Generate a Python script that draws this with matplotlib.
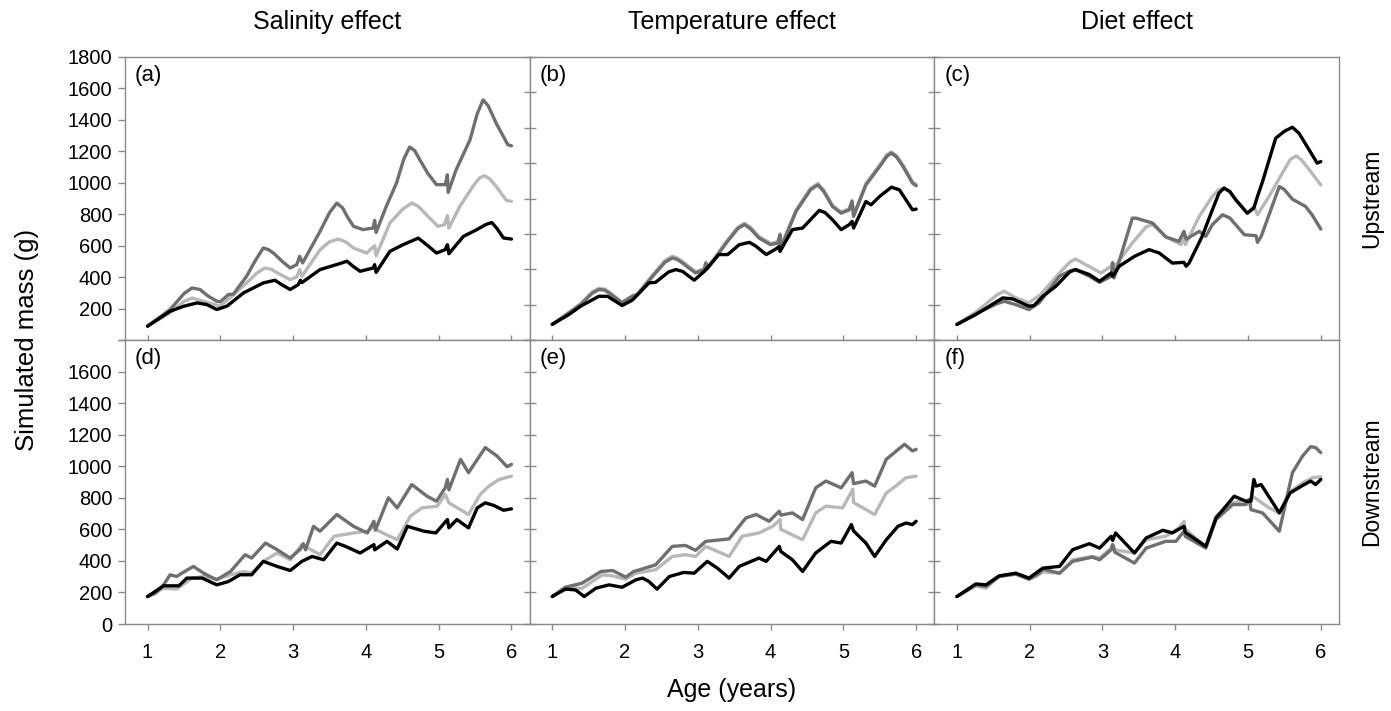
import matplotlib
matplotlib.use("Agg")
import matplotlib.pyplot as plt

plt.rcParams['font.family'] = ['Liberation Sans', 'DejaVu Sans']

col_titles = ["Salinity effect", "Temperature effect", "Diet effect"]
row_titles = ["Upstream", "Downstream"]
panel_letters = ["(a)", "(b)", "(c)", "(d)", "(e)", "(f)"]
ylabel = "Simulated mass (g)"
xlabel = "Age (years)"
x_ticks = [1, 2, 3, 4, 5, 6]

# ---------------- Panel (a) : Salinity, upstream ----------------
a_dark_x = [1.0, 1.31, 1.50, 1.61, 1.72, 1.83, 1.95, 2.0, 2.11, 2.18, 2.36, 2.48, 2.59, 2.66, 2.73, 2.85, 2.96, 3.05, 3.09, 3.13, 3.37, 3.50, 3.60, 3.68, 3.75, 3.83, 3.96, 4.10, 4.12, 4.14, 4.28, 4.42, 4.52, 4.60, 4.67, 4.74, 4.85, 4.97, 5.09, 5.12, 5.13, 5.24, 5.43, 5.53, 5.61, 5.68, 5.74, 5.79, 5.95, 6.0]
a_dark_y = [88, 194, 295, 331, 321, 280, 247, 243, 289, 292, 405, 505, 585, 575, 553, 500, 458, 479, 532, 490, 691, 810, 871, 840, 780, 723, 702, 712, 761, 684, 850, 998, 1150, 1227, 1205, 1147, 1060, 988, 988, 1051, 939, 1083, 1273, 1440, 1527, 1490, 1430, 1379, 1242, 1235]
a_light_x = [1.0, 1.31, 1.50, 1.61, 1.77, 2.0, 2.13, 2.36, 2.50, 2.61, 2.70, 2.77, 2.96, 3.05, 3.09, 3.12, 3.37, 3.50, 3.62, 3.72, 3.83, 4.01, 4.12, 4.14, 4.33, 4.50, 4.63, 4.72, 4.83, 4.99, 5.08, 5.12, 5.14, 5.29, 5.47, 5.56, 5.63, 5.70, 5.79, 5.93, 6.0]
a_light_y = [88, 173, 245, 267, 246, 215, 267, 363, 425, 458, 450, 430, 384, 401, 448, 405, 574, 625, 642, 625, 585, 553, 600, 536, 744, 830, 871, 850, 797, 723, 733, 791, 712, 850, 977, 1030, 1045, 1025, 977, 888, 882]
a_black_x = [1.0, 1.31, 1.50, 1.68, 1.81, 1.95, 2.09, 2.32, 2.59, 2.75, 2.85, 2.96, 3.07, 3.10, 3.12, 3.37, 3.60, 3.74, 3.82, 3.92, 4.10, 4.12, 4.14, 4.33, 4.51, 4.72, 4.85, 4.97, 5.09, 5.12, 5.14, 5.34, 5.52, 5.65, 5.73, 5.80, 5.89, 6.0]
a_black_y = [88, 183, 215, 236, 226, 194, 215, 300, 363, 380, 350, 321, 352, 380, 365, 448, 480, 501, 470, 437, 458, 479, 430, 564, 606, 648, 600, 553, 575, 606, 549, 659, 701, 735, 747, 710, 649, 642]

# ---------------- Panel (b) : Temperature, upstream ----------------
b_dark_x = [1.0, 1.23, 1.39, 1.55, 1.64, 1.72, 1.78, 1.96, 2.10, 2.17, 2.38, 2.55, 2.65, 2.72, 2.79, 2.97, 3.09, 3.11, 3.13, 3.39, 3.55, 3.64, 3.72, 3.84, 4.0, 4.10, 4.13, 4.14, 4.35, 4.55, 4.65, 4.73, 4.85, 4.97, 5.08, 5.12, 5.14, 5.31, 5.50, 5.60, 5.66, 5.73, 5.82, 5.95, 6.0]
b_dark_y = [88, 153, 200, 265, 285, 282, 266, 210, 247, 256, 360, 440, 464, 455, 435, 379, 398, 435, 400, 548, 630, 652, 630, 577, 539, 548, 595, 520, 727, 850, 877, 840, 755, 717, 736, 783, 699, 877, 981, 1040, 1056, 1035, 981, 887, 872]
b_light_x = [1.0, 1.23, 1.39, 1.55, 1.64, 1.72, 1.78, 1.96, 2.10, 2.17, 2.38, 2.55, 2.65, 2.72, 2.79, 2.97, 3.09, 3.11, 3.13, 3.39, 3.55, 3.64, 3.72, 3.84, 4.0, 4.10, 4.13, 4.14, 4.35, 4.55, 4.65, 4.73, 4.85, 4.97, 5.08, 5.12, 5.14, 5.31, 5.50, 5.60, 5.66, 5.73, 5.82, 5.95, 6.0]
b_light_y = [90, 157, 205, 272, 292, 288, 272, 214, 250, 262, 368, 450, 474, 463, 444, 386, 404, 440, 408, 556, 638, 660, 640, 585, 546, 556, 600, 528, 735, 858, 885, 848, 762, 724, 742, 790, 706, 885, 990, 1048, 1064, 1043, 990, 894, 880]
b_black_x = [1.0, 1.23, 1.39, 1.64, 1.76, 1.96, 2.10, 2.33, 2.42, 2.60, 2.70, 2.79, 2.95, 3.09, 3.11, 3.29, 3.41, 3.57, 3.71, 3.80, 3.94, 4.07, 4.12, 4.13, 4.30, 4.44, 4.67, 4.75, 4.85, 4.97, 5.08, 5.12, 5.14, 5.31, 5.38, 5.50, 5.66, 5.77, 5.95, 6.0]
b_black_y = [88, 144, 191, 247, 247, 195, 225, 323, 326, 385, 398, 388, 338, 388, 398, 483, 483, 539, 552, 530, 483, 514, 529, 501, 624, 633, 733, 720, 680, 624, 652, 671, 633, 783, 764, 812, 864, 849, 736, 740]

# ---------------- Panel (c) : Diet, upstream ----------------
c_black_x = [1.0, 1.26, 1.63, 1.77, 1.99, 2.06, 2.18, 2.36, 2.55, 2.63, 2.82, 2.96, 3.12, 3.14, 3.23, 3.44, 3.64, 3.78, 3.96, 4.12, 4.15, 4.19, 4.37, 4.51, 4.60, 4.67, 4.75, 4.83, 4.99, 5.08, 5.13, 5.20, 5.38, 5.50, 5.61, 5.70, 5.84, 5.95, 6.0]
c_black_y = [88, 144, 238, 232, 191, 195, 247, 304, 385, 398, 370, 332, 379, 360, 417, 473, 511, 492, 435, 439, 417, 435, 586, 736, 830, 859, 840, 793, 717, 746, 812, 896, 1141, 1180, 1203, 1169, 1075, 1000, 1009]
c_light_x = [1.0, 1.26, 1.55, 1.65, 1.81, 1.99, 2.15, 2.41, 2.55, 2.63, 2.77, 2.98, 3.12, 3.14, 3.16, 3.41, 3.60, 3.69, 3.87, 4.08, 4.12, 4.14, 4.33, 4.51, 4.60, 4.67, 4.75, 4.86, 4.99, 5.08, 5.13, 5.29, 5.47, 5.58, 5.66, 5.73, 5.79, 5.93, 6.0]
c_light_y = [88, 157, 255, 276, 238, 210, 257, 379, 440, 458, 426, 379, 417, 440, 410, 548, 640, 652, 586, 539, 586, 540, 699, 812, 850, 859, 835, 783, 717, 755, 708, 812, 943, 1020, 1041, 1020, 990, 915, 877]
c_dark_x = [1.0, 1.26, 1.55, 1.65, 1.81, 1.99, 2.13, 2.41, 2.55, 2.63, 2.82, 2.96, 3.12, 3.14, 3.16, 3.41, 3.46, 3.69, 3.87, 4.05, 4.12, 4.15, 4.33, 4.42, 4.51, 4.65, 4.75, 4.83, 4.95, 5.11, 5.13, 5.18, 5.43, 5.50, 5.61, 5.79, 5.88, 6.0]
c_dark_y = [88, 148, 205, 219, 200, 172, 210, 360, 390, 398, 360, 326, 360, 435, 351, 689, 689, 661, 582, 558, 614, 570, 614, 586, 652, 708, 690, 652, 595, 590, 552, 585, 868, 850, 796, 755, 708, 627]

# ---------------- Panel (d) : Salinity, downstream ----------------
d_dark_x = [1.0, 1.11, 1.22, 1.31, 1.40, 1.47, 1.63, 1.77, 1.95, 2.14, 2.34, 2.43, 2.62, 2.78, 2.96, 3.10, 3.14, 3.17, 3.28, 3.37, 3.60, 3.83, 4.02, 4.11, 4.13, 4.31, 4.43, 4.63, 4.84, 4.97, 5.09, 5.12, 5.14, 5.30, 5.41, 5.50, 5.64, 5.80, 5.94, 6.0]
d_dark_y = [174, 195, 248, 312, 301, 322, 365, 322, 280, 333, 439, 418, 513, 471, 418, 475, 509, 470, 619, 588, 694, 619, 577, 651, 595, 800, 736, 884, 810, 778, 863, 916, 850, 1043, 959, 1022, 1118, 1065, 997, 1012]
d_light_x = [1.0, 1.22, 1.40, 1.61, 1.77, 1.95, 2.14, 2.32, 2.43, 2.59, 2.78, 2.96, 3.12, 3.37, 3.56, 3.83, 4.02, 4.11, 4.15, 4.43, 4.61, 4.77, 4.98, 5.09, 5.14, 5.41, 5.57, 5.69, 5.83, 6.0]
d_light_y = [174, 227, 221, 291, 301, 284, 312, 333, 322, 397, 450, 407, 503, 439, 556, 577, 588, 619, 595, 534, 683, 736, 747, 821, 768, 694, 821, 874, 916, 937]
d_black_x = [1.0, 1.22, 1.43, 1.54, 1.75, 1.95, 2.11, 2.27, 2.43, 2.59, 2.78, 2.96, 3.12, 3.26, 3.42, 3.60, 3.72, 3.92, 4.11, 4.12, 4.29, 4.43, 4.57, 4.80, 4.96, 5.12, 5.14, 5.25, 5.41, 5.53, 5.64, 5.76, 5.89, 6.0]
d_black_y = [174, 242, 242, 291, 291, 248, 269, 312, 312, 397, 365, 339, 397, 428, 407, 513, 492, 450, 503, 470, 524, 475, 619, 588, 577, 662, 610, 662, 609, 736, 768, 751, 721, 730]

# ---------------- Panel (e) : Temperature, downstream ----------------
e_dark_x = [1.0, 1.18, 1.41, 1.67, 1.83, 2.01, 2.12, 2.21, 2.42, 2.65, 2.83, 2.97, 3.11, 3.43, 3.66, 3.80, 3.98, 4.12, 4.14, 4.30, 4.44, 4.62, 4.76, 4.97, 5.12, 5.14, 5.31, 5.43, 5.59, 5.84, 5.95, 6.0]
e_dark_y = [174, 233, 259, 333, 339, 297, 333, 345, 375, 492, 498, 467, 524, 539, 672, 694, 651, 715, 690, 704, 662, 863, 906, 863, 959, 890, 906, 874, 1044, 1139, 1097, 1107]
e_light_x = [1.0, 1.18, 1.41, 1.69, 1.83, 2.01, 2.15, 2.42, 2.65, 2.83, 2.97, 3.11, 3.43, 3.61, 3.84, 4.03, 4.13, 4.14, 4.44, 4.62, 4.76, 4.99, 5.13, 5.14, 5.43, 5.59, 5.72, 5.86, 6.0]
e_light_y = [174, 227, 227, 312, 305, 284, 322, 344, 428, 439, 428, 492, 428, 556, 577, 619, 662, 600, 534, 704, 747, 736, 853, 770, 694, 831, 874, 927, 937]
e_black_x = [1.0, 1.18, 1.32, 1.44, 1.60, 1.78, 1.96, 2.15, 2.24, 2.33, 2.44, 2.61, 2.81, 2.95, 3.13, 3.27, 3.43, 3.57, 3.84, 3.94, 4.12, 4.14, 4.30, 4.44, 4.62, 4.83, 4.97, 5.11, 5.14, 5.31, 5.43, 5.59, 5.75, 5.86, 5.95, 6.0]
e_black_y = [174, 221, 216, 174, 227, 248, 233, 280, 291, 269, 221, 301, 327, 322, 397, 354, 291, 365, 418, 397, 492, 460, 407, 333, 450, 524, 513, 630, 590, 513, 428, 534, 619, 640, 630, 651]

# ---------------- Panel (f) : Diet, downstream ----------------
f_dark_x = [1.0, 1.26, 1.40, 1.58, 1.81, 1.99, 2.13, 2.18, 2.41, 2.59, 2.86, 2.96, 3.12, 3.14, 3.17, 3.44, 3.60, 3.87, 4.01, 4.12, 4.14, 4.42, 4.56, 4.79, 4.97, 5.02, 5.04, 5.20, 5.43, 5.61, 5.75, 5.86, 5.93, 6.0]
f_dark_y = [174, 248, 238, 301, 316, 284, 322, 348, 322, 397, 424, 407, 471, 503, 455, 386, 481, 524, 524, 588, 555, 481, 662, 757, 757, 789, 725, 704, 588, 959, 1065, 1124, 1118, 1086]
f_light_x = [1.0, 1.26, 1.40, 1.58, 1.81, 1.99, 2.09, 2.18, 2.41, 2.59, 2.86, 2.96, 3.12, 3.14, 3.17, 3.44, 3.60, 3.87, 4.05, 4.12, 4.14, 4.42, 4.56, 4.79, 5.02, 5.06, 5.29, 5.43, 5.56, 5.75, 5.89, 6.0]
f_light_y = [174, 242, 227, 305, 318, 284, 301, 330, 322, 407, 428, 418, 481, 503, 470, 450, 534, 556, 609, 651, 600, 492, 683, 768, 789, 810, 736, 704, 831, 895, 927, 933]
f_black_x = [1.0, 1.26, 1.40, 1.58, 1.81, 1.99, 2.18, 2.41, 2.59, 2.82, 2.96, 3.12, 3.14, 3.18, 3.44, 3.60, 3.83, 3.96, 4.12, 4.14, 4.42, 4.56, 4.81, 4.97, 5.04, 5.08, 5.11, 5.18, 5.43, 5.58, 5.75, 5.86, 5.93, 6.0]
f_black_y = [174, 254, 248, 305, 322, 291, 354, 365, 471, 509, 481, 556, 530, 577, 450, 545, 594, 577, 619, 580, 492, 672, 810, 778, 778, 916, 874, 884, 704, 831, 878, 906, 884, 916]

panels = [
    [(a_light_x, a_light_y), (a_dark_x, a_dark_y), (a_black_x, a_black_y)],
    [(b_light_x, b_light_y), (b_dark_x, b_dark_y), (b_black_x, b_black_y)],
    [(c_light_x, c_light_y), (c_dark_x, c_dark_y), (c_black_x, c_black_y)],
    [(d_light_x, d_light_y), (d_dark_x, d_dark_y), (d_black_x, d_black_y)],
    [(e_light_x, e_light_y), (e_dark_x, e_dark_y), (e_black_x, e_black_y)],
    [(f_light_x, f_light_y), (f_dark_x, f_dark_y), (f_black_x, f_black_y)],
]
line_colors = ["#b8b8b8", "#6f6f6f", "#000000"]
# y-axis maxima per panel (upper b, c panels were drawn on a 0-1600 axis)
y_max = [1800, 1600, 1600, 1800, 1800, 1800]

W, H = 1391, 711
fig = plt.figure(figsize=(W / 100, H / 100), dpi=100)

left_px, right_px = 125, 1339
col_w = (right_px - left_px) / 3
rows_px = [(57, 340), (340, 624)]
spine_col = "#8a8a8a"

axes = []
for i in range(6):
    r, c = divmod(i, 3)
    top, bot = rows_px[r]
    ax = fig.add_axes([(left_px + c * col_w) / W, (H - bot) / H, col_w / W, (bot - top) / H])
    axes.append(ax)
    for (xs, ys), col in zip(panels[i], line_colors):
        ax.plot(xs, ys, color=col, lw=2.4, solid_joinstyle="round", solid_capstyle="round")
    ax.set_xlim(0.69, 6.25)
    ax.set_ylim(0, y_max[i])
    ax.set_xticks(x_ticks)
    ax.set_yticks(range(0, y_max[i] + 1, 200))
    for sp in ax.spines.values():
        sp.set_color(spine_col)
        sp.set_linewidth(1.0)
    ax.tick_params(axis="both", colors=spine_col, labelcolor="black", labelsize=14.5, width=1.0)
    if r == 0:
        ax.tick_params(axis="x", direction="inout", length=7, labelbottom=False)
    else:
        ax.tick_params(axis="x", direction="out", length=4, pad=10)
    if c == 0:
        ax.tick_params(axis="y", direction="out", length=5, pad=4)
        if r == 0:
            ax.set_yticks(range(0, 1801, 200), ["" if v == 0 else str(v) for v in range(0, 1801, 200)])
        else:
            ax.set_yticks(range(0, 1801, 200), ["" if v == 1800 else str(v) for v in range(0, 1801, 200)])
    else:
        ax.tick_params(axis="y", direction="inout", length=8, labelleft=False)
    ax.text(0.025, 0.935, panel_letters[i], transform=ax.transAxes, fontsize=16,
            ha="left", va="center")

for c, t in enumerate(col_titles):
    fig.text((left_px + (c + 0.5) * col_w) / W, 1 - 22 / H, t, fontsize=18, ha="center", va="center")

for r, t in enumerate(row_titles):
    top, bot = rows_px[r]
    fig.text(1372 / W, 1 - ((top + bot) / 2) / H, t, fontsize=16.5, rotation=90, ha="center", va="center")

fig.text(27 / W, 1 - 340 / H, ylabel, fontsize=18.5, rotation=90, ha="center", va="center")
fig.text((left_px + right_px) / 2 / W, 1 - 690 / H, xlabel, fontsize=18, ha="center", va="center")

fig.savefig("out.png", dpi=100)
